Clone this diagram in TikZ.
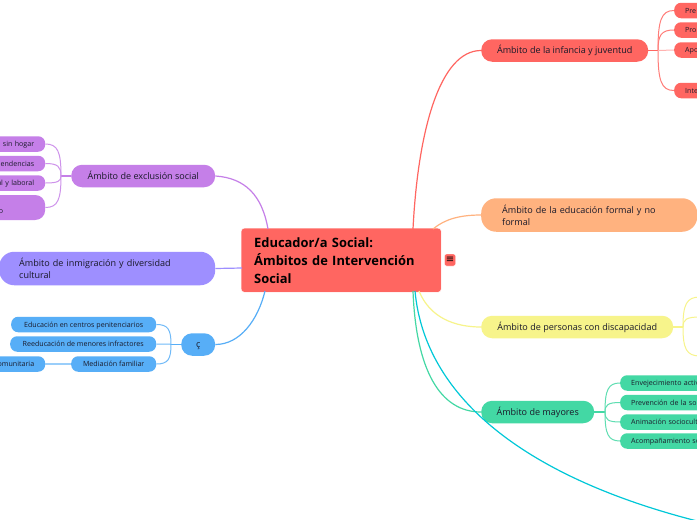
\documentclass[tikz,border=0pt]{standalone}
\usepackage{fontspec}
\usetikzlibrary{calc}
\setmainfont{Open Sans}
\newfontfamily\symfont{DejaVu Sans}
\definecolor{cred}{HTML}{FF6661}
\definecolor{corange}{HTML}{FFB27F}
\definecolor{cyellow}{HTML}{F7F48B}
\definecolor{cgreen}{HTML}{43D8A4}
\definecolor{ccyan}{HTML}{00C8D8}
\definecolor{cpurple}{HTML}{C57FE8}
\definecolor{cviolet}{HTML}{9E8FFF}
\definecolor{cblue}{HTML}{57AEF7}
\definecolor{ink}{HTML}{1A1A2A}
\tikzset{
  pill/.style={rectangle,rounded corners=#1,anchor=west,inner ysep=0pt,text=ink,align=left},
  prim/.style={pill=11pt,font=\fontsize{9.05}{12}\selectfont,minimum height=22.5pt,inner xsep=0pt,align=center,text height=7pt,text depth=1pt},
  wide/.style={pill=15pt,font=\fontsize{9.05}{12}\selectfont,minimum height=33.5pt},
  kid/.style={pill=7pt,font=\fontsize{7.1}{9}\selectfont,minimum height=15.5pt,inner xsep=11pt,text height=5.5pt,text depth=0.5pt},
  main/.style={line width=1.2pt},
  sub/.style={line width=1pt},
}
\begin{document}
\begin{tikzpicture}[x=1pt,y=-1pt]
\useasboundingbox (0,0) rectangle (697,520);
\fill[white] (0,0) rectangle (697,520);
\begin{scope}
\clip (0,0) rectangle (697,520);
% anchors on the central topic
\coordinate (sRed) at (413,229);
\coordinate (sOrange) at (433,229);
\coordinate (sYellow) at (419,291);
\coordinate (sGreen) at (413,291);
\coordinate (sCyan) at (415,291);
\coordinate (sPurple) at (268,229);
\coordinate (sBlue) at (265,291);
\coordinate (sViolet) at (242,268);
\coordinate (cyanEnd) at (705,523);
% hubs
\coordinate (hInf) at (658,50.5);
\coordinate (hDis) at (683,327);
\coordinate (hMay) at (605,412);
\coordinate (hExc) at (61,176);
\coordinate (hCar) at (171,344.5);
\coordinate (y1) at (700,297);
\coordinate (y2) at (700,317);
\coordinate (y3) at (700,356);
% primary nodes
\node[prim,fill=cred,minimum width=167pt] (inf) at (481,50.5) {Ámbito de la infancia y juventud};
\node[wide,fill=corange,inner xsep=21pt,text width=174pt] (edu) at (481,215) {Ámbito de la educación formal y no\\formal};
\node[prim,fill=cyellow,minimum width=192pt] (dis) at (481,327) {Ámbito de personas con discapacidad};
\node[prim,fill=cgreen,minimum width=113pt] (may) at (481,412) {Ámbito de mayores};
\node[prim,fill=cpurple,minimum width=144pt] (exc) at (71,176) {Ámbito de exclusión social};
\node[wide,fill=cviolet,inner xsep=20pt,text width=176pt] (inm) at (-1,268.5) {Ámbito de inmigración y diversidad\\cultural};
\node[prim,fill=cblue,minimum width=34pt] (car) at (181,344.5) {ç};
% children right
\node[kid,fill=cred,text width=40pt] (i1) at (674,10.5) {Pre};
\node[kid,fill=cred,text width=40pt] (i2) at (674,30) {Pro};
\node[kid,fill=cred,text width=40pt] (i3) at (674,50) {Apo};
\node[kid,fill=cred,text width=40pt] (i4) at (674,90.5) {Inte};
\node[kid,fill=cgreen,text width=120pt] (m1) at (620,383) {Envejecimiento activ};
\node[kid,fill=cgreen,text width=120pt] (m2) at (620,402.5) {Prevención de la sol};
\node[kid,fill=cgreen,text width=120pt] (m3) at (620,422) {Animación sociocult};
\node[kid,fill=cgreen,text width=120pt] (m4) at (620,441) {Acompañamiento so};
% children left
\node[kid,fill=cpurple,text width=60pt,align=right] (e1) at (-37,144) {sin hogar};
\node[kid,fill=cpurple,text width=60pt,align=right] (e2) at (-37,163.5) {endencias};
\node[kid,fill=cpurple,text width=60pt,align=right] (e3) at (-37,183) {al y laboral};
\node[kid,fill=cpurple,pill=10pt,minimum height=25pt,inner xsep=42pt,text width=31pt,align=right,text height=12pt,text depth=0.5pt] (e4) at (-70,207.5) {o};
\node[kid,fill=cblue,inner xsep=0pt,minimum width=145pt,align=center] (b1) at (11,324.5) {Educación en centros penitenciarios};
\node[kid,fill=cblue,inner xsep=0pt,minimum width=146pt,align=center] (b2) at (10,344) {Reeducación de menores infractores};
\node[kid,fill=cblue,inner xsep=0pt,minimum width=85pt,align=center] (b3) at (71,364) {Mediación familiar};
\node[kid,fill=cblue,text width=60pt,align=right] (b4) at (-37,364) {omunitaria};
% central
\node[rectangle,rounded corners=3pt,fill=cred,draw=white,anchor=north west,minimum width=200pt,minimum height=64pt,inner xsep=13pt,inner ysep=5pt,text width=174pt,align=left,text=black,font=\fontsize{12.9}{18}\selectfont\bfseries] (c) at (241,228) {Educador/a Social:\\Ámbitos de Intervención\\Social};
\node[rectangle,rounded corners=2pt,fill=cred,draw=white,minimum width=11pt,minimum height=12pt,inner sep=0pt,font=\symfont\fontsize{10}{10}\selectfont,text=black] (menu) at (450,260) {≡};
% main connectors
\draw[main,cred] (sRed) .. controls (418,130) and (440,50.5) .. (inf.west);
\draw[main,corange] (sOrange) .. controls (445,219) and (460,215) .. (edu.west);
\draw[main,cyellow] (sYellow) .. controls (430,318) and (455,327) .. (dis.west);
\draw[main,cgreen] (sGreen) .. controls (416,370) and (440,412) .. (may.west);
\draw[main,ccyan] (sCyan) .. controls (425,400) and (530,480) .. (cyanEnd);
\draw[main,cpurple] (exc.east) .. controls (245,178) and (262,195) .. (sPurple);
\draw[main,cviolet] (inm.east) -- (sViolet);
\draw[main,cblue] (car.east) .. controls (240,344.5) and (258,320) .. (sBlue);
% stems
\draw[main,cred] (inf.east) -- (hInf);
\draw[main,cyellow] (dis.east) -- (hDis);
\draw[main,cgreen] (may.east) -- (hMay);
\draw[main,cpurple] (exc.west) -- (hExc);
\draw[main,cblue] (car.west) -- (hCar);
% child connectors
\foreach \k in {i1,i2,i4}{\draw[sub,cred!85] (hInf) .. controls ($(hInf)!0.75!(hInf |- \k.west)$) and ($(hInf |- \k.west)!0.2!(\k.west)$) .. (\k.west);}
\draw[sub,cred!50] (hInf) -- (i3.west);
\foreach \k in {m1,m2,m3,m4}{\draw[sub,cgreen!85] (hMay) .. controls ($(hMay)!0.75!(hMay |- \k.west)$) and ($(hMay |- \k.west)!0.2!(\k.west)$) .. (\k.west);}
\foreach \k in {y1,y2,y3}{\draw[sub,cyellow] (hDis) .. controls ($(hDis)!0.75!(hDis |- \k)$) and ($(hDis |- \k)!0.2!(\k)$) .. (\k);}
\foreach \k in {e1,e2,e3,e4}{\draw[sub,cpurple!85] (hExc) .. controls ($(hExc)!0.75!(hExc |- \k.east)$) and ($(hExc |- \k.east)!0.2!(\k.east)$) .. (\k.east);}
\foreach \k in {b1,b2,b3}{\draw[sub,cblue!85] (hCar) .. controls ($(hCar)!0.75!(hCar |- \k.east)$) and ($(hCar |- \k.east)!0.2!(\k.east)$) .. (\k.east);}
\draw[main,cblue!60] (b3.west) -- (b4.east);
\end{scope}
\end{tikzpicture}
\end{document}
